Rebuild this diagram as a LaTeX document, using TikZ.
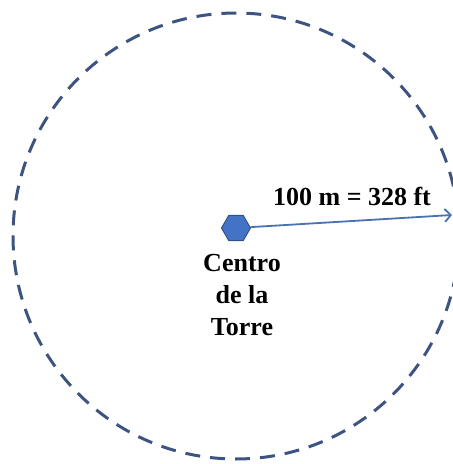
\documentclass[tikz,border=0pt]{standalone}
\usepackage{fontspec}
\setmainfont{Liberation Serif}
\usetikzlibrary{shapes.geometric,arrows.meta}

\definecolor{ringblue}{RGB}{62,84,128}
\definecolor{hexblue}{RGB}{68,114,196}
\definecolor{hexedge}{RGB}{47,82,143}
\definecolor{lineblue}{RGB}{74,114,176}

\tikzstyle{ring} = [
draw=ringblue,
line width=3pt,
dash pattern=on 15pt off 10pt
]
\tikzstyle{tower} = [
regular polygon,
regular polygon sides=6,
minimum size=29pt,
inner sep=0pt,
draw=hexedge,
line width=1pt,
fill=hexblue
]
\tikzstyle{label} = [
font=\fontsize{26}{32}\selectfont\bfseries,
text centered,
align=center
]
\tikzstyle{arrow} = [
draw=lineblue,
line width=1.8pt,
-{Straight Barb[length=6pt,width=13pt]}
]

\begin{document}
\begin{tikzpicture}

\clip (0pt,0pt) rectangle (453pt,-464pt);

% Circle
\draw [ring] (236pt,-236pt) circle (223pt);

% Nodes
\node (centre) [tower] at (236pt,-228pt) {};

\node (radius) [label] at (352pt,-196pt)
{100 m = 328 ft};

\node (name) [label] at (242pt,-295pt)
{Centro\\ de la\\ Torre};

\coordinate (edge) at (452pt,-215pt);

% Arrows
\draw [arrow] (centre) -- (edge);

\end{tikzpicture}
\end{document}
